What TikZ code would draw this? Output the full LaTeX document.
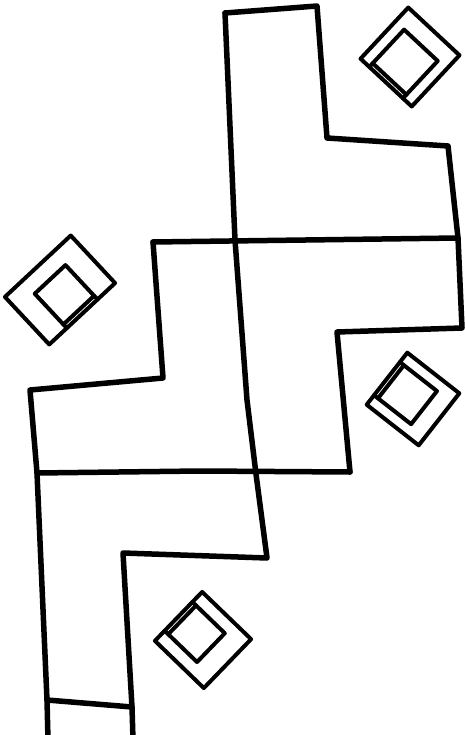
\documentclass[tikz,border=0pt]{standalone}
\usetikzlibrary{calc}
\tikzset{wall/.style={line width=5.5pt, line join=round, line cap=round},
  armchair/.style={line width=4pt, line join=round, line cap=round}}

\begin{document}
\begin{tikzpicture}[x=1pt,y=-1pt]
  \useasboundingbox (0,0) rectangle (465,735);
  % desk corners
  \coordinate (a) at (225,13);
  \coordinate (b) at (317,6);
  \coordinate (c) at (327,138);
  \coordinate (d) at (448,146);
  \coordinate (e) at (458,238);
  \coordinate (f) at (462,328);
  \coordinate (g) at (337,332);
  \coordinate (h) at (350,472);
  \coordinate (i) at (153,242);
  \coordinate (j) at (163,378);
  \coordinate (k) at (30,390);
  \coordinate (l) at (37,473);
  \coordinate (m) at (47,700);
  \coordinate (n) at (267,558);
  \coordinate (o) at (123,553);
  \coordinate (p) at (132,707);
  \coordinate (mx) at (48,740);
  \coordinate (px) at (133,740);
  % desks
  \draw[wall] (a) -- (b) -- (c) -- (d) -- (e) -- (f) -- (g) -- (h);
  \draw[wall] (a) -- (235,240) -- (247,400) -- (256,474) -- (n) -- (o) -- (p) -- (px);
  \draw[wall] (i) -- (e);
  \draw[wall] (i) -- (j) -- (k) -- (l) -- (m) -- (mx);
  \draw[wall] (l) -- (200,471) -- (h);
  \draw[wall] (m) -- (p);
  % armchairs
  \foreach \cx/\cy/\r/\w/\d/\s in {410/57/-43/70/70/46, 60/290/43/90/65/42,
      413/399/-128/66/66/42, 203/640/-134/68/68/40}{
    \begin{scope}[shift={(\cx,\cy)}, rotate=\r]
      \draw[armchair] (-\w/2,-\d/2) rectangle (\w/2,\d/2);
      \draw[armchair] (-\s/2,\d/2-5-\s) rectangle (\s/2,\d/2-5);
      \draw[armchair] (-\s/2,\d/2-5) -- (-\s/2,\d/2) (\s/2,\d/2-5) -- (\s/2,\d/2);
    \end{scope}}
\end{tikzpicture}
\end{document}
